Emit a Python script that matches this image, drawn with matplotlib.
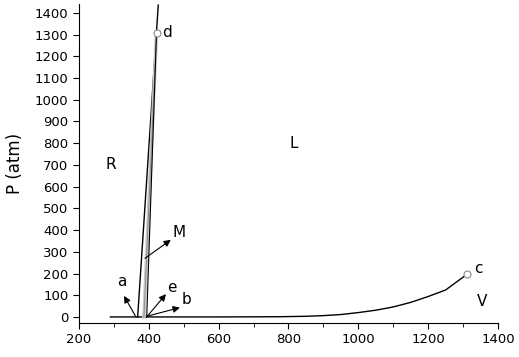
import matplotlib
matplotlib.use('Agg')
import matplotlib.pyplot as plt
from matplotlib.ticker import MultipleLocator

# vapour line up to critical point c
vap_T = [290, 600, 700, 776, 850, 900, 950, 1000, 1050, 1100, 1150, 1200, 1250, 1312]
vap_P = [0, 0, 0.5, 1, 3, 6, 11, 20, 31, 46, 67, 94, 124, 197]

# melting lines
melt1_T = [368, 427]
melt1_P = [0, 1436]
melt2_T = [386, 422]
melt2_P = [0, 1307]
melt3_T = [394, 422]
melt3_P = [0, 1307]

# open points c and d
pts_T = [1312, 422]
pts_P = [197, 1307]

# (text, x, y)
labels = [("R", 292, 700), ("L", 816, 797), ("V", 1354, 69), ("c", 1345, 225),
          ("d", 452, 1308), ("a", 323, 161), ("e", 466, 134), ("b", 509, 78), ("M", 486, 387)]

# arrows: (tip x, tip y, tail x, tail y)
arrows = [(329, 97, 363, 0), (449, 105, 394, 0), (489, 43, 394, 3), (463, 355, 389, 270)]

fig = plt.figure(figsize=(5.19, 3.57), dpi=100)
ax = fig.add_axes([0.1522, 0.0952, 0.8073, 0.8936])

ax.plot(vap_T, vap_P, color='black', lw=1)
ax.plot(melt1_T, melt1_P, color='black', lw=1)
ax.plot(melt2_T, melt2_P, color='#c8c8c8', lw=2.5)
ax.plot(melt2_T, melt2_P, color='#888888', lw=0.6)
ax.plot(melt3_T, melt3_P, color='black', lw=0.8)
ax.plot(pts_T, pts_P, 'o', ms=5, mfc='white', mec='#888888', mew=0.8, zorder=5)

for t, x, y in labels:
    ax.text(x, y, t, fontsize=11, ha='center', va='center')

for tx, ty, sx, sy in arrows:
    ax.annotate('', xy=(tx, ty), xytext=(sx, sy),
                arrowprops=dict(arrowstyle='-|>', color='black', lw=0.8,
                                mutation_scale=10, shrinkA=0, shrinkB=0))

ax.set_xlim(200, 1400)
ax.set_ylim(-28, 1441)
ax.spines['top'].set_visible(False)
ax.spines['right'].set_visible(False)
ax.xaxis.set_major_locator(MultipleLocator(200))
ax.xaxis.set_minor_locator(MultipleLocator(100))
ax.yaxis.set_major_locator(MultipleLocator(100))
ax.yaxis.set_major_formatter(plt.FuncFormatter(lambda v, p: '%d' % v if 0 <= v <= 1400 else ''))
ax.tick_params(axis='both', which='major', direction='out', length=4, labelsize=9.5)
ax.tick_params(axis='x', which='minor', direction='out', length=3)
ax.set_ylabel('P (atm)', fontsize=12, labelpad=8)

fig.savefig('out.png', dpi=100)
